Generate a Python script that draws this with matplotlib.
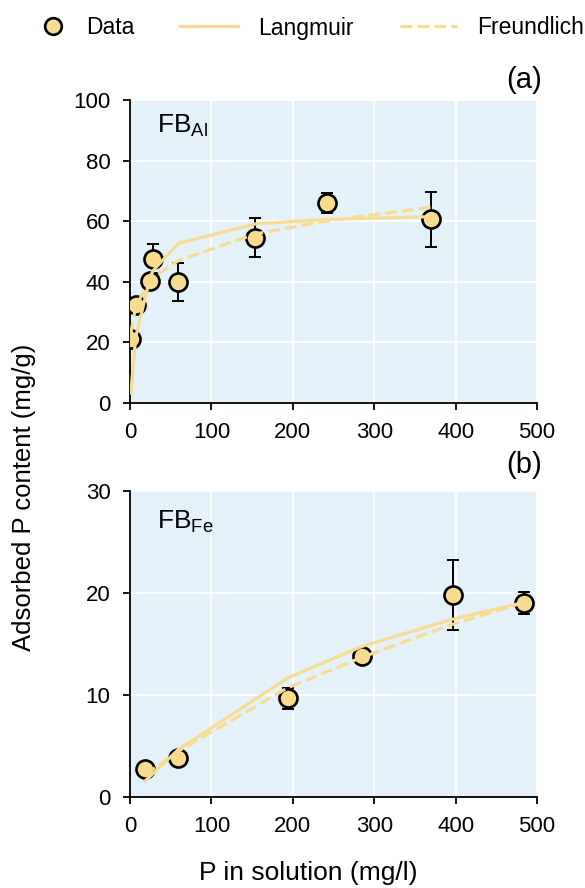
import numpy as np
import matplotlib.pyplot as plt
from matplotlib.lines import Line2D
from matplotlib.legend_handler import HandlerLine2D

plt.rcParams["font.family"] = ["Liberation Sans", "DejaVu Sans"]
plt.rcParams["mathtext.default"] = "regular"

# (a) FB_Al
al_c = [1, 7, 25, 28.7, 59.5, 154, 241.8, 369.5]
al_q = [21.2, 32.4, 40.3, 47.6, 39.9, 54.6, 66.0, 60.6]
al_err = [0.5, 0.8, 1.0, 4.8, 6.4, 6.3, 3.3, 9.0]
al_lang = [3.2, 21.7, 41.8, 43.8, 52.7, 59.1, 60.6, 61.5]
al_freu = [23.0, 32.0, 40.6, 41.6, 47.0, 55.8, 60.1, 64.6]

# (b) FB_Fe
fe_c = [18.5, 59.5, 193.6, 285, 396.8, 483.5]
fe_q = [2.7, 3.85, 9.67, 13.85, 19.8, 19.0]
fe_err = [0.2, 0.2, 1.0, 0.3, 3.4, 1.1]
fe_lang = [1.57, 4.66, 11.67, 14.76, 17.44, 19.06]
fe_freu = [2.2, 4.5, 10.7, 13.7, 16.95, 19.06]

FILL = "#F7DB8F"
LINE = "#F6DC93"
BG = "#E4F1F8"

fig = plt.figure(figsize=(5.85, 8.88), dpi=100)
W, H = 585, 888


def panel(box, c, q, err, lang, freu, ymax, ystep, name, name_y, tag, tag_y):
    l, t, r, b = box
    ax = fig.add_axes([l / W, 1 - b / H, (r - l) / W, (b - t) / H])
    ax.set_facecolor(BG)
    ax.errorbar(c, q, yerr=err, fmt="none", ecolor="black", elinewidth=1.4,
                capsize=4, capthick=1.4, zorder=2)
    ax.plot(c, q, "o", ms=13, mfc=FILL, mec="black", mew=1.9, zorder=3)
    ax.plot(c, lang, "-", color=LINE, lw=2.3, zorder=4)
    ax.plot(c, freu, "--", color=LINE, lw=2.3, zorder=4)
    ax.set_xlim(0, 500)
    ax.set_ylim(0, ymax)
    ax.set_xticks(np.arange(0, 501, 100))
    ax.set_yticks(np.arange(0, ymax + 1, ystep))
    ax.grid(color="white", lw=1.2)
    ax.set_axisbelow(True)
    for s in ["top", "right"]:
        ax.spines[s].set_visible(False)
    for s in ["left", "bottom"]:
        ax.spines[s].set_linewidth(1.3)
    ax.tick_params(direction="out", length=5, width=1.3, pad=9, labelsize=16)
    ax.text(0.066, name_y, name, transform=ax.transAxes, fontsize=19,
            ha="left", va="center")
    fig.text(542 / W, 1 - tag_y / H, tag, fontsize=21, ha="right", va="center")
    return ax


panel((130, 100, 537, 403), al_c, al_q, al_err, al_lang, al_freu, 100, 20,
      r"FB$_{Al}$", 0.915, "(a)", 80)
panel((130, 491, 537, 797), fe_c, fe_q, fe_err, fe_lang, fe_freu, 30, 10,
      r"FB$_{Fe}$", 0.9, "(b)", 465)

fig.text(24 / W, 1 - 497 / H, "Adsorbed P content (mg/g)", rotation=90,
         fontsize=18.5, ha="center", va="center")
fig.text(308 / W, 1 - 873 / H, "P in solution (mg/l)", fontsize=19,
         ha="center", va="center")

handles = [
    Line2D([], [], ls="none", marker="o", ms=12, mfc=FILL, mec="black", mew=1.9),
    Line2D([], [], ls="-", color=LINE, lw=2.3),
    Line2D([], [], ls="--", color=LINE, lw=2.3),
]
fig.legend(handles, ["Data", "Langmuir", "Freundlich"], ncol=3, frameon=False,
           loc="center left", bbox_to_anchor=(0.014, 1 - 28 / H),
           fontsize=16.5, handlelength=2.5, handletextpad=0.9,
           columnspacing=2.0, borderpad=0, borderaxespad=0,
           handler_map={handles[0]: HandlerLine2D(xpad=1.4)})

fig.savefig("out.png", dpi=100)
